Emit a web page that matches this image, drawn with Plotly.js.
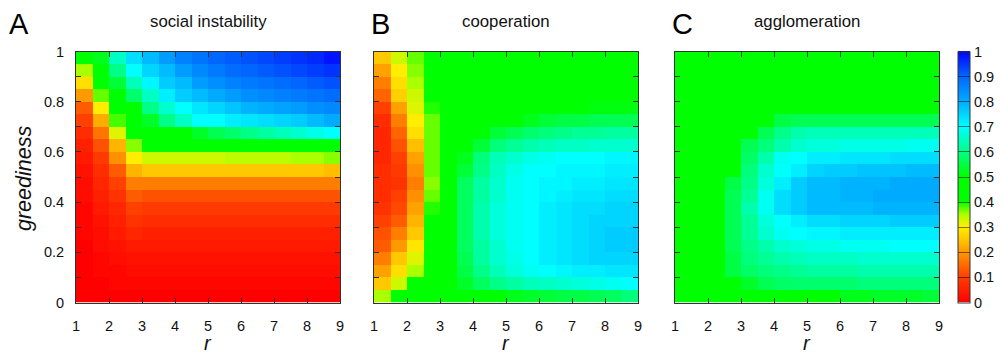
<!DOCTYPE html>
<html>
<head>
<meta charset="utf-8">
<script src="https://cdn.plot.ly/plotly-3.0.1.min.js"></script>
<style>html,body{margin:0;padding:0;background:#fff;}#chart{width:1001px;height:353px;}</style>
</head>
<body>
<div id="chart"></div>
<script>
// r cell centres (x) and greediness cell centres (y, top row first)
const rValues = [1.25,1.75,2.25,2.75,3.25,3.75,4.25,4.75,5.25,5.75,6.25,6.75,7.25,7.75,8.25,8.75];
const greedValues = [0.975,0.925,0.875,0.825,0.775,0.725,0.675,0.625,0.575,0.525,0.475,0.425,0.375,0.325,0.275,0.225,0.175,0.125,0.075,0.025];

const panelTitles = ["social instability", "cooperation", "agglomeration"];
const panelLetters = ["A", "B", "C"];
const xTickVals = [1,2,3,4,5,6,7,8,9];
const yTickVals = [0,0.1,0.2,0.3,0.4,0.5,0.6,0.7,0.8,0.9,1];
const yTickText = ["0","","0.2","","0.4","","0.6","","0.8","","1"];
const cbTickVals = [0,0.1,0.2,0.3,0.4,0.5,0.6,0.7,0.8,0.9,1];
const cbTickText = ["0","0.1","0.2","0.3","0.4","0.5","0.6","0.7","0.8","0.9","1"];

// A: social instability (rows top -> bottom)
const instability = [
 [0.45,0.52,0.65,0.74,0.78,0.82,0.86,0.88,0.90,0.91,0.92,0.93,0.94,0.95,0.96,0.98],
 [0.35,0.45,0.60,0.70,0.75,0.78,0.82,0.85,0.87,0.89,0.90,0.91,0.92,0.93,0.94,0.95],
 [0.28,0.45,0.54,0.64,0.71,0.76,0.78,0.82,0.84,0.86,0.87,0.88,0.89,0.90,0.91,0.92],
 [0.20,0.37,0.45,0.58,0.65,0.72,0.76,0.78,0.80,0.82,0.84,0.85,0.86,0.87,0.88,0.89],
 [0.13,0.30,0.45,0.47,0.60,0.66,0.70,0.73,0.75,0.77,0.79,0.80,0.81,0.82,0.84,0.85],
 [0.10,0.22,0.38,0.45,0.53,0.60,0.65,0.70,0.70,0.72,0.73,0.74,0.75,0.76,0.78,0.80],
 [0.07,0.16,0.32,0.45,0.45,0.46,0.47,0.53,0.56,0.58,0.60,0.62,0.64,0.66,0.68,0.70],
 [0.05,0.12,0.23,0.36,0.45,0.45,0.45,0.45,0.45,0.45,0.45,0.45,0.45,0.45,0.45,0.45],
 [0.04,0.09,0.19,0.30,0.33,0.33,0.33,0.33,0.33,0.34,0.34,0.34,0.34,0.35,0.35,0.36],
 [0.03,0.07,0.13,0.23,0.25,0.25,0.25,0.25,0.25,0.25,0.25,0.25,0.25,0.25,0.25,0.24],
 [0.02,0.06,0.10,0.17,0.17,0.17,0.17,0.17,0.17,0.17,0.17,0.17,0.17,0.17,0.17,0.17],
 [0.02,0.05,0.08,0.13,0.12,0.12,0.12,0.12,0.12,0.12,0.12,0.12,0.12,0.12,0.12,0.12],
 [0.01,0.04,0.06,0.10,0.09,0.09,0.09,0.09,0.09,0.09,0.09,0.09,0.09,0.09,0.09,0.09],
 [0.01,0.03,0.05,0.08,0.07,0.07,0.07,0.07,0.07,0.07,0.07,0.07,0.07,0.07,0.07,0.07],
 [0.01,0.02,0.04,0.06,0.05,0.05,0.05,0.05,0.05,0.05,0.05,0.05,0.05,0.05,0.05,0.05],
 [0.00,0.02,0.03,0.04,0.04,0.04,0.04,0.04,0.04,0.04,0.04,0.04,0.04,0.04,0.04,0.04],
 [0.00,0.01,0.02,0.03,0.03,0.03,0.03,0.03,0.03,0.03,0.03,0.03,0.03,0.03,0.03,0.03],
 [0.00,0.01,0.01,0.02,0.02,0.02,0.02,0.02,0.02,0.02,0.02,0.02,0.02,0.02,0.02,0.02],
 [0.00,0.00,0.01,0.01,0.01,0.01,0.01,0.01,0.01,0.01,0.01,0.01,0.01,0.01,0.01,0.01],
 [0.00,0.00,0.00,0.00,0.00,0.00,0.00,0.00,0.00,0.00,0.00,0.00,0.00,0.00,0.00,0.00]
];

// B: cooperation
const cooperation = [
 [0.25,0.33,0.37,0.45,0.45,0.45,0.45,0.45,0.45,0.45,0.45,0.45,0.45,0.45,0.45,0.45],
 [0.21,0.30,0.36,0.45,0.45,0.45,0.45,0.45,0.45,0.45,0.45,0.45,0.45,0.45,0.45,0.45],
 [0.17,0.28,0.35,0.45,0.45,0.45,0.45,0.45,0.45,0.45,0.45,0.45,0.45,0.45,0.45,0.45],
 [0.14,0.26,0.33,0.45,0.45,0.45,0.45,0.45,0.45,0.45,0.45,0.45,0.45,0.45,0.45,0.47],
 [0.10,0.21,0.32,0.39,0.45,0.45,0.45,0.45,0.45,0.46,0.48,0.50,0.50,0.51,0.51,0.51],
 [0.07,0.17,0.30,0.37,0.45,0.45,0.45,0.47,0.50,0.52,0.54,0.55,0.55,0.56,0.56,0.56],
 [0.06,0.14,0.28,0.37,0.45,0.45,0.49,0.54,0.56,0.58,0.59,0.60,0.61,0.61,0.62,0.62],
 [0.06,0.12,0.24,0.37,0.45,0.45,0.54,0.59,0.61,0.63,0.64,0.65,0.65,0.66,0.66,0.66],
 [0.06,0.10,0.21,0.37,0.45,0.52,0.59,0.64,0.66,0.68,0.69,0.70,0.70,0.70,0.71,0.71],
 [0.07,0.09,0.19,0.37,0.45,0.54,0.60,0.65,0.68,0.70,0.70,0.71,0.71,0.71,0.72,0.72],
 [0.07,0.08,0.17,0.36,0.46,0.57,0.62,0.66,0.69,0.70,0.71,0.71,0.72,0.72,0.73,0.73],
 [0.07,0.10,0.19,0.37,0.47,0.57,0.62,0.66,0.69,0.70,0.71,0.72,0.73,0.73,0.74,0.74],
 [0.08,0.11,0.21,0.39,0.49,0.57,0.63,0.67,0.69,0.70,0.72,0.73,0.74,0.74,0.75,0.75],
 [0.10,0.13,0.23,0.45,0.50,0.57,0.63,0.67,0.69,0.70,0.72,0.73,0.74,0.75,0.75,0.75],
 [0.12,0.17,0.25,0.45,0.50,0.57,0.63,0.67,0.69,0.70,0.72,0.73,0.74,0.75,0.76,0.76],
 [0.13,0.20,0.29,0.45,0.50,0.57,0.62,0.66,0.69,0.70,0.72,0.73,0.74,0.75,0.76,0.76],
 [0.17,0.25,0.32,0.45,0.49,0.56,0.62,0.66,0.68,0.70,0.72,0.73,0.74,0.75,0.75,0.75],
 [0.21,0.28,0.35,0.45,0.48,0.55,0.60,0.64,0.67,0.69,0.70,0.71,0.72,0.72,0.73,0.73],
 [0.25,0.33,0.45,0.45,0.46,0.53,0.57,0.60,0.62,0.64,0.65,0.66,0.67,0.68,0.69,0.70],
 [0.35,0.45,0.45,0.45,0.45,0.45,0.46,0.50,0.52,0.53,0.54,0.55,0.55,0.56,0.57,0.59]
];

// C: agglomeration
const agglomeration = [
 [0.48,0.48,0.48,0.48,0.48,0.48,0.48,0.48,0.48,0.48,0.48,0.48,0.48,0.48,0.48,0.48],
 [0.48,0.48,0.48,0.48,0.48,0.48,0.48,0.48,0.48,0.48,0.48,0.48,0.48,0.48,0.48,0.48],
 [0.48,0.48,0.48,0.48,0.48,0.48,0.48,0.48,0.48,0.48,0.48,0.48,0.48,0.48,0.48,0.48],
 [0.48,0.48,0.48,0.48,0.48,0.48,0.48,0.48,0.48,0.48,0.48,0.48,0.48,0.48,0.48,0.48],
 [0.48,0.48,0.48,0.48,0.48,0.48,0.48,0.48,0.48,0.48,0.48,0.48,0.48,0.48,0.48,0.48],
 [0.48,0.48,0.48,0.48,0.48,0.48,0.55,0.56,0.56,0.56,0.56,0.56,0.56,0.56,0.56,0.56],
 [0.48,0.48,0.48,0.48,0.48,0.56,0.60,0.63,0.64,0.64,0.64,0.64,0.64,0.64,0.64,0.64],
 [0.48,0.48,0.48,0.48,0.56,0.59,0.63,0.66,0.67,0.67,0.68,0.68,0.68,0.68,0.69,0.69],
 [0.48,0.48,0.48,0.48,0.575,0.63,0.69,0.70,0.72,0.72,0.73,0.73,0.73,0.74,0.74,0.74],
 [0.48,0.48,0.48,0.48,0.59,0.66,0.70,0.72,0.75,0.76,0.76,0.77,0.77,0.77,0.78,0.78],
 [0.48,0.48,0.48,0.55,0.60,0.67,0.72,0.76,0.78,0.78,0.79,0.79,0.79,0.80,0.80,0.80],
 [0.48,0.48,0.48,0.56,0.61,0.69,0.74,0.76,0.78,0.78,0.79,0.79,0.80,0.80,0.80,0.80],
 [0.48,0.48,0.48,0.56,0.63,0.69,0.74,0.76,0.78,0.78,0.78,0.78,0.79,0.79,0.79,0.79],
 [0.48,0.48,0.48,0.56,0.61,0.67,0.70,0.72,0.74,0.74,0.75,0.75,0.75,0.76,0.76,0.76],
 [0.48,0.48,0.48,0.56,0.61,0.66,0.69,0.70,0.71,0.71,0.72,0.72,0.72,0.72,0.72,0.72],
 [0.48,0.48,0.48,0.56,0.60,0.63,0.66,0.67,0.68,0.68,0.69,0.69,0.69,0.70,0.70,0.70],
 [0.48,0.48,0.48,0.55,0.59,0.61,0.63,0.64,0.65,0.65,0.65,0.66,0.66,0.66,0.66,0.66],
 [0.48,0.48,0.48,0.55,0.575,0.59,0.60,0.61,0.62,0.62,0.62,0.63,0.63,0.63,0.63,0.63],
 [0.48,0.48,0.48,0.48,0.53,0.56,0.575,0.58,0.58,0.58,0.58,0.59,0.59,0.59,0.59,0.59],
 [0.48,0.48,0.48,0.48,0.48,0.48,0.48,0.48,0.48,0.50,0.52,0.52,0.53,0.53,0.53,0.54]
];

const panelData = [instability, cooperation, agglomeration];

const colorscale = [
 [0.00,'#ff0000'],[0.10,'#ff4000'],[0.20,'#ff9900'],[0.25,'#ffc800'],
 [0.30,'#ffee00'],[0.35,'#aaff00'],[0.40,'#00ff00'],[0.50,'#00ff00'],
 [0.60,'#00ff88'],[0.70,'#00ffff'],[0.80,'#00aaff'],[0.90,'#0066ff'],[1.00,'#0000ff']
];

const W = 1001, H = 353;
const px = v => v / W;
const py = v => (H - v) / H;
const xDomains = [[px(76), px(340)], [px(374), px(638)], [px(675), px(939)]];
const yDomain = [py(302.5), py(51.5)];
const FONT = 'Liberation Sans, Arial, sans-serif';
const axisColor = '#333';

const traces = panelData.map((z, i) => ({
  type: 'heatmap',
  x: rValues, y: greedValues, z: z,
  coloraxis: 'coloraxis',
  xaxis: i === 0 ? 'x' : 'x' + (i + 1),
  yaxis: i === 0 ? 'y' : 'y' + (i + 1),
  hoverinfo: 'skip'
}));

const layout = {
  width: W, height: H,
  margin: {l: 0, r: 0, t: 0, b: 0, autoexpand: false},
  paper_bgcolor: '#fff', plot_bgcolor: '#fff',
  font: {family: FONT, size: 14, color: '#111'},
  showlegend: false,
  coloraxis: {
    colorscale: colorscale, cmin: 0, cmax: 1,
    colorbar: {
      x: px(958), xanchor: 'left', xpad: 0,
      y: py(302.5), yanchor: 'bottom', ypad: 0,
      thickness: 12, len: 251, lenmode: 'pixels',
      outlinewidth: 1, outlinecolor: axisColor,
      tickmode: 'array', tickvals: cbTickVals, ticktext: cbTickText,
      ticks: 'inside', ticklen: 12, tickcolor: 'rgba(0,0,0,0.5)', tickwidth: 1,
      tickfont: {family: FONT, size: 14.5, color: '#111'}
    }
  },
  annotations: []
};

for (let i = 0; i < 3; i++) {
  const xk = i === 0 ? 'xaxis' : 'xaxis' + (i + 1);
  const yk = i === 0 ? 'yaxis' : 'yaxis' + (i + 1);
  const ya = i === 0 ? 'y' : 'y' + (i + 1);
  const xa = i === 0 ? 'x' : 'x' + (i + 1);
  layout[xk] = {
    domain: xDomains[i], anchor: ya, range: [1, 9],
    tickmode: 'array', tickvals: xTickVals,
    ticks: 'inside', ticklen: 5, tickcolor: axisColor, tickwidth: 1,
    showline: true, linecolor: axisColor, linewidth: 1, mirror: 'ticks',
    showgrid: false, zeroline: false, ticklabelstandoff: 10,
    tickfont: {family: FONT, size: 14.5, color: '#111'}, fixedrange: true
  };
  layout[yk] = {
    domain: yDomain, anchor: xa, range: [0, 1],
    tickmode: 'array', tickvals: yTickVals, ticktext: yTickText,
    showticklabels: i === 0,
    ticks: 'inside', ticklen: 5, tickcolor: axisColor, tickwidth: 1,
    showline: true, linecolor: axisColor, linewidth: 1, mirror: 'ticks',
    showgrid: false, zeroline: false, ticklabelstandoff: 8,
    tickfont: {family: FONT, size: 14.5, color: '#111'}, fixedrange: true
  };
  const cx = (xDomains[i][0] + xDomains[i][1]) / 2;
  layout.annotations.push({
    xref: 'paper', yref: 'paper', x: cx, y: py(21), xanchor: 'center', yanchor: 'middle',
    text: panelTitles[i], showarrow: false, font: {family: FONT, size: 16.8, color: '#111'}
  });
  layout.annotations.push({
    xref: 'paper', yref: 'paper', x: cx, y: py(343), xanchor: 'center', yanchor: 'middle',
    text: '<i>r</i>', showarrow: false, font: {family: FONT, size: 20, color: '#111'}
  });
}
const letterX = [19, 380, 682];
panelLetters.forEach((t, i) => {
  layout.annotations.push({
    xref: 'paper', yref: 'paper', x: px(letterX[i]), y: py(24), xanchor: 'center', yanchor: 'middle',
    text: t, showarrow: false, font: {family: FONT, size: 29, color: '#000'}
  });
});
layout.annotations.push({
  xref: 'paper', yref: 'paper', x: px(24), y: py(179), xanchor: 'center', yanchor: 'middle',
  text: '<i>greediness</i>', textangle: -90, showarrow: false,
  font: {family: FONT, size: 21.5, color: '#111'}
});

Plotly.newPlot('chart', traces, layout, {staticPlot: true, displayModeBar: false});
</script>
</body>
</html>
